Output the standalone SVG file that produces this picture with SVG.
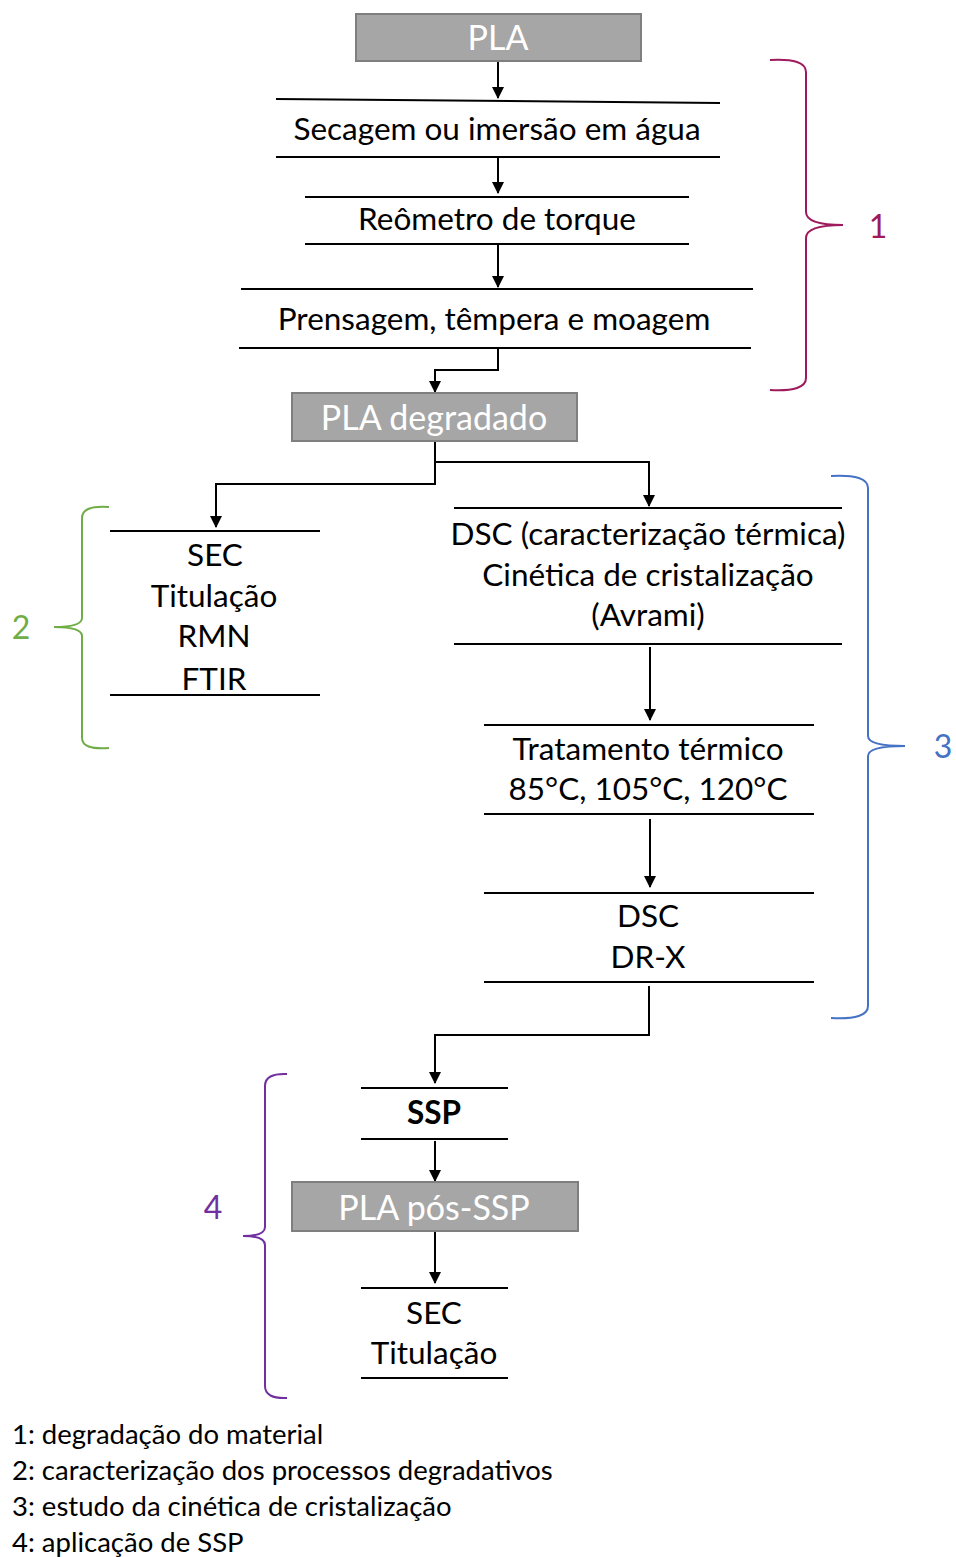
<svg xmlns="http://www.w3.org/2000/svg" width="956" height="1557" viewBox="0 0 956 1557">
<style>
.t{font-family:Lato,"Open Sans","Liberation Sans",sans-serif;font-size:31.5px;fill:#000;text-anchor:middle}
.w{font-family:Lato,"Open Sans","Liberation Sans",sans-serif;fill:#fff;text-anchor:middle;font-size:34px}
.box{fill:#a6a6a6;stroke:#7f7f7f;stroke-width:2}
.ln{stroke:#000;stroke-width:2;fill:none}
.c{stroke:#000;stroke-width:2;fill:none}
.br{fill:none;stroke-width:2}
.n{font-family:Lato,"Open Sans","Liberation Sans",sans-serif;font-size:32px;text-anchor:middle}
.lg{font-family:Lato,"Open Sans","Liberation Sans",sans-serif;font-size:27.5px;fill:#000}
</style>
<defs>
<marker id="a" viewBox="0 0 12 12" refX="11" refY="6" markerWidth="12" markerHeight="12" orient="auto" markerUnits="userSpaceOnUse">
<path d="M0,0 L12,6 L0,12 z" fill="#000"/>
</marker>
</defs>
<rect width="956" height="1557" fill="#fff"/>

<g id="connectors">
<path class="c" d="M498,61 V98" marker-end="url(#a)"/>
<path class="c" d="M498,157 V193" marker-end="url(#a)"/>
<path class="c" d="M498,244 V287" marker-end="url(#a)"/>
<path class="c" d="M498,348 V370 H435 V392" marker-end="url(#a)"/>
<path class="c" d="M435,441 V484 H216 V527" marker-end="url(#a)"/>
<path class="c" d="M435,462 H649 V506" marker-end="url(#a)"/>
<path class="c" d="M650,647 V720" marker-end="url(#a)"/>
<path class="c" d="M650,819 V887" marker-end="url(#a)"/>
<path class="c" d="M649,986 V1035 H435 V1083" marker-end="url(#a)"/>
<path class="c" d="M435,1141 V1181" marker-end="url(#a)"/>
<path class="c" d="M435,1231 V1283" marker-end="url(#a)"/>
</g>

<g id="pla">
<rect class="box" x="356" y="14" width="285" height="47"/>
<text class="w" x="498" y="50">PLA</text>
</g>

<g id="secagem">
<line class="ln" x1="276" y1="99" x2="720" y2="103"/>
<line class="ln" x1="276" y1="157" x2="720" y2="157"/>
<text class="t" x="497" y="140">Secagem ou imersão em água</text>
</g>

<g id="reometro">
<line class="ln" x1="305" y1="197" x2="689" y2="197"/>
<line class="ln" x1="305" y1="244" x2="689" y2="244"/>
<text class="t" x="497" y="230">Reômetro de torque</text>
</g>

<g id="prensagem">
<line class="ln" x1="241" y1="289" x2="753" y2="289"/>
<line class="ln" x1="239" y1="348" x2="751" y2="348"/>
<text class="t" x="494" y="330">Prensagem, têmpera e moagem</text>
</g>

<g id="pla-degradado">
<rect class="box" x="292" y="393" width="285" height="48"/>
<text class="w" x="434" y="430">PLA degradado</text>
</g>

<g id="caracterizacao">
<line class="ln" x1="110" y1="531" x2="320" y2="531"/>
<line class="ln" x1="110" y1="695" x2="320" y2="695"/>
<text class="t" x="215" y="566">SEC</text>
<text class="t" x="214" y="607">Titulação</text>
<text class="t" x="214" y="647">RMN</text>
<text class="t" x="214" y="690">FTIR</text>
</g>

<g id="dsc-cinetica">
<line class="ln" x1="454" y1="508" x2="842" y2="508"/>
<line class="ln" x1="454" y1="644" x2="842" y2="644"/>
<text class="t" x="648" y="545">DSC (caracterização térmica)</text>
<text class="t" x="648" y="586">Cinética de cristalização</text>
<text class="t" x="648" y="626">(Avrami)</text>
</g>

<g id="tratamento">
<line class="ln" x1="484" y1="725" x2="814" y2="725"/>
<line class="ln" x1="484" y1="814" x2="814" y2="814"/>
<text class="t" x="648" y="760">Tratamento térmico</text>
<text class="t" x="648" y="800">85°C, 105°C, 120°C</text>
</g>

<g id="dsc-drx">
<line class="ln" x1="484" y1="893" x2="814" y2="893"/>
<line class="ln" x1="484" y1="982" x2="814" y2="982"/>
<text class="t" x="648" y="927">DSC</text>
<text class="t" x="648" y="968">DR-X</text>
</g>

<g id="ssp">
<line class="ln" x1="361" y1="1088" x2="508" y2="1088"/>
<line class="ln" x1="361" y1="1139" x2="508" y2="1139"/>
<text class="t" x="434" y="1124" font-weight="bold">SSP</text>
</g>

<g id="pla-pos-ssp">
<rect class="box" x="292" y="1182" width="286" height="49"/>
<text class="w" x="434" y="1220">PLA pós-SSP</text>
</g>

<g id="sec-titulacao">
<line class="ln" x1="361" y1="1288" x2="508" y2="1288"/>
<line class="ln" x1="361" y1="1378" x2="508" y2="1378"/>
<text class="t" x="434" y="1324">SEC</text>
<text class="t" x="434" y="1364">Titulação</text>
</g>

<g id="brace1">
<path class="br" stroke="#9e1a5c" d="M770,60 Q806,58 806,72 V212 Q806,225 843,225 Q806,225 806,238 V378 Q806,392 770,390"/>
<text class="n" x="878" y="238" fill="#9e1a5c">1</text>
</g>

<g id="brace2">
<path class="br" stroke="#70ad47" d="M109,507 Q82,505 82,518 V618 Q82,627 54,627 Q82,627 82,636 V738 Q82,750 109,748"/>
<text class="n" x="21" y="639" fill="#70ad47">2</text>
</g>

<g id="brace3">
<path class="br" stroke="#4472c4" d="M831,476 Q868,474 868,488 V736 Q868,746 905,746 Q868,746 868,756 V1006 Q868,1020 831,1018"/>
<text class="n" x="943" y="758" fill="#4472c4">3</text>
</g>

<g id="brace4">
<path class="br" stroke="#7030a0" d="M287,1074 Q265,1073 265,1086 V1227 Q265,1236 243,1236 Q265,1236 265,1245 V1386 Q265,1399 287,1398"/>
<text class="n" x="213" y="1219" fill="#7030a0">4</text>
</g>

<g id="legend">
<text class="lg" x="12" y="1444">1: degradação do material</text>
<text class="lg" x="12" y="1480">2: caracterização dos processos degradativos</text>
<text class="lg" x="12" y="1516">3: estudo da cinética de cristalização</text>
<text class="lg" x="12" y="1552">4: aplicação de SSP</text>
</g>
</svg>
